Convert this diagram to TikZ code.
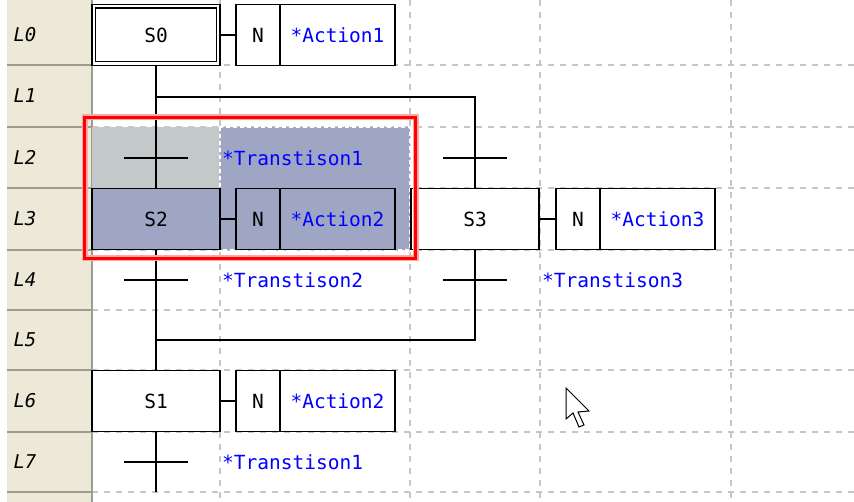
\documentclass[tikz,border=0pt]{standalone}
\usepackage{fontspec}
\newfontfamily\monofont{DejaVu Sans Mono}
\definecolor{beige}{HTML}{ECE9D8}
\definecolor{sepgray}{HTML}{9C9C94}
\definecolor{gridgray}{HTML}{C6C6C6}
\definecolor{selgray}{HTML}{C2C9C8}
\definecolor{selblue}{HTML}{9EA6C4}
\begin{document}
\begin{tikzpicture}[x=1pt,y=-1pt,
  every node/.style={font=\monofont\fontsize{19.5}{19.5}\selectfont, inner sep=0pt},
  stepbox/.style={draw=black, line width=1.6pt, minimum width=128pt, minimum height=61pt, fill=white},
  nbox/.style={draw=black, line width=1.6pt, minimum width=44pt, minimum height=61pt, fill=white},
  actbox/.style={draw=black, line width=1.6pt, minimum width=115pt, minimum height=61pt, fill=white, text=blue},
  link/.style={line width=1.6pt},
  bar/.style={line width=1.6pt},
  gridline/.style={draw=gridgray, line width=1.5pt, dash pattern=on 6pt off 6pt},
  trtext/.style={anchor=west, text=blue},
  rowlab/.style={font=\monofont\itshape\fontsize{19}{19}\selectfont}
]
\useasboundingbox (0,0) rectangle (854,502);
\fill[white] (0,0) rectangle (854,502);
\fill[beige] (7,0) rectangle (92,502);
% grid
\foreach \y in {65,127,188,250,310,370,432,492} {
  \draw[sepgray, line width=1.5pt] (7,\y) -- (92,\y);
  \draw[gridline] (92,\y) -- (854,\y);
}
\foreach \x in {220,410,540,731} \draw[gridline] (\x,0) -- (\x,502);
\draw[sepgray, line width=1.5pt] (92,0) -- (92,502);
% selection
\fill[selgray] (92,127) rectangle (220,188);
\fill[selblue] (220,127) rectangle (410,250);
\draw[white, line width=1.2pt, dash pattern=on 4pt off 3pt] (220,127) rectangle (410,250);
% row labels
\foreach \t/\y in {L0/35,L1/96,L2/157,L3/219,L4/280,L5/340,L6/401,L7/462}
  \node[rowlab] (lab\t) at (25,\y) {\t};
% steps and actions
\node[stepbox] (S0) at (156,35) {S0};
\draw[line width=1.4pt] ([shift={(4.5pt,4.5pt)}]S0.south west) rectangle ([shift={(-4.5pt,-4.5pt)}]S0.north east);
\node[nbox] (A0N) at (258,35) {N};
\node[actbox] (A0) at (337.5,35) {*Action1};
\node[stepbox, fill=selblue] (S2) at (156,219) {S2};
\node[nbox, fill=selblue] (A2N) at (258,219) {N};
\node[actbox, fill=selblue] (A2) at (337.5,219) {*Action2};
\node[stepbox] (S3) at (475,219) {S3};
\node[nbox] (A3N) at (578,219) {N};
\node[actbox] (A3) at (657.5,219) {*Action3};
\node[stepbox] (S1) at (156,401) {S1};
\node[nbox] (A1N) at (258,401) {N};
\node[actbox] (A1) at (337.5,401) {*Action2};
% coordinates
\coordinate (div) at (156,97);
\coordinate (conv) at (156,340);
\coordinate (T1) at (156,158);
\coordinate (T2) at (156,280);
\coordinate (T3) at (475,158);
\coordinate (T4) at (475,280);
\coordinate (T5) at (156,462);
\coordinate (endl) at (156,492);
% connectors
\draw[link] (S0.south) -- (S2.north);
\draw[link] (div) -| (S3.north);
\draw[link] (S3.south) |- (conv);
\draw[link] (S2.south) -- (S1.north);
\draw[link] (S1.south) -- (endl);
\draw[link] (S0.east) -- (A0N.west);
\draw[link] (S2.east) -- (A2N.west);
\draw[link] (S3.east) -- (A3N.west);
\draw[link] (S1.east) -- (A1N.west);
% transitions
\foreach \c in {T1,T2,T3,T4,T5}
  \draw[bar] ([xshift=-32pt]\c) -- ([xshift=32pt]\c);
\node[trtext] (TX1) at (222,158) {*Transtison1};
\node[trtext] (TX2) at (222,280) {*Transtison2};
\node[trtext] (TX3) at (542,280) {*Transtison3};
\node[trtext] (TX5) at (222,462) {*Transtison1};
% red selection frame
\draw[red!35, line width=6pt] (84.5,117.5) rectangle (415.5,258.5);
\draw[red, line width=3.5pt] (84.5,117.5) rectangle (415.5,258.5);
% cursor
\draw[fill=white, line width=1pt, line join=miter] (566,388) -- ++(0,31) -- ++(7,-6) -- ++(6,14) -- ++(5,-2) -- ++(-6,-13) -- ++(11,-1) -- cycle;
\end{tikzpicture}
\end{document}
